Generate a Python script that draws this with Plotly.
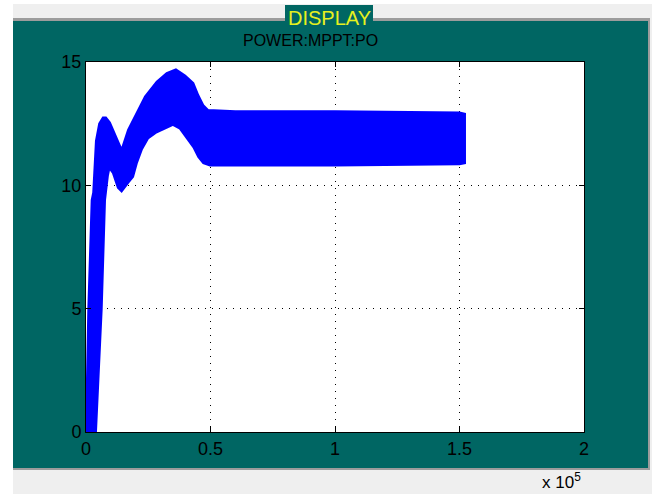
import plotly.graph_objects as go

# Simulation output POWER:MPPT:PO (time in samples, power value)
# The signal ripples quickly, so it is drawn as the band between its envelopes.
upper_t = [0, 930, 2290, 2900, 4000, 5300, 6800, 8000, 9600, 12300, 14300, 16900,
           20400, 23700, 28400, 32400, 36100, 39800, 43100, 45100, 47100, 49100,
           60000, 100000, 150000, 152200]
upper_p = [0.0, 5.0, 9.4, 9.7, 11.8, 12.5, 12.75, 12.75, 12.55, 11.95, 11.45, 12.25,
           12.95, 13.6, 14.2, 14.55, 14.7, 14.45, 14.15, 13.65, 13.25, 13.05,
           13.0, 13.0, 12.95, 12.9]

lower_t = [0, 4000, 6300, 7630, 8800, 9400, 10800, 12800, 14300, 16900, 18900, 20400,
           22400, 24900, 28400, 31700, 34900, 37700, 40400, 43100, 45100, 47100,
           49800, 100000, 150000, 152200]
lower_p = [0.0, 0.0, 5.0, 9.4, 10.4, 10.7, 10.5, 9.9, 9.75, 10.1, 10.35, 10.9,
           11.45, 11.9, 12.15, 12.3, 12.45, 12.3, 11.95, 11.55, 11.15, 10.9,
           10.8, 10.8, 10.85, 10.9]

x_ticks = [0, 50000, 100000, 150000, 200000]
x_tick_labels = ["0", "0.5", "1", "1.5", "2"]
y_ticks = [0, 5, 10, 15]
y_tick_labels = ["0", "5", "10", "15"]

W, H = 659, 494
L, R, T, B = 86, 584, 62, 432  # plot area in pixels

TEAL = "#006663"
FONT = "Liberation Sans, Arial, sans-serif"


def px(xp):
    return (xp - L) / (R - L)


def py(yp):
    return (B - yp) / (B - T)


def rect(x0, y0, x1, y1, color):
    return dict(type="rect", xref="paper", yref="paper",
                x0=px(x0), x1=px(x1), y0=py(y1), y1=py(y0),
                fillcolor=color, line=dict(width=0), layer="below")


fig = go.Figure()
fig.add_trace(go.Scatter(
    x=upper_t + lower_t[::-1],
    y=upper_p + lower_p[::-1],
    mode="lines", fill="toself",
    fillcolor="#0000ff", line=dict(color="#0000ff", width=2),
    hoverinfo="skip", showlegend=False,
))

shapes = [
    rect(13, 4, 652, 494, "#efefef"),       # window frame
    rect(13, 18, 650, 470, "#9c9c9c"),      # panel edge
    rect(13, 21, 648, 468, TEAL),           # scope panel
    rect(285, 5, 373, 22, TEAL),            # caption tab
    rect(L, T, R, B, "white"),              # axes background
]

fig.update_layout(
    width=W, height=H,
    margin=dict(l=L, r=W - R, t=T, b=H - B, pad=0),
    paper_bgcolor="white",
    plot_bgcolor="rgba(0,0,0,0)",
    shapes=shapes,
    showlegend=False,
    font=dict(family=FONT, size=18, color="black"),
)

axis_common = dict(
    showline=True, linecolor="black", linewidth=1, mirror="ticks",
    ticks="inside", ticklen=5, tickcolor="black", tickwidth=1,
    showgrid=True, gridcolor="black", gridwidth=1, griddash="1px,6px",
    zeroline=False, tickfont=dict(family=FONT, size=18, color="black"),
)
fig.update_xaxes(range=[0, 200000], tickvals=x_ticks, ticktext=x_tick_labels, **axis_common)
fig.update_yaxes(range=[0, 15], tickvals=y_ticks, ticktext=y_tick_labels, **axis_common)

fig.add_annotation(xref="paper", yref="paper", x=px(329), y=py(17.5),
                   text="DISPLAY", showarrow=False, xanchor="center", yanchor="middle",
                   font=dict(family=FONT, size=20, color="#e6f01e"))
fig.add_annotation(xref="paper", yref="paper", x=px(310), y=py(41),
                   text="POWER:MPPT:PO", showarrow=False, xanchor="center", yanchor="middle",
                   font=dict(family=FONT, size=16, color="black"))
fig.add_annotation(xref="paper", yref="paper", x=px(583), y=py(494),
                   text="x 10<sup>5</sup>", showarrow=False, xanchor="right", yanchor="bottom",
                   font=dict(family=FONT, size=17, color="black"))

fig.write_html("out.html")
